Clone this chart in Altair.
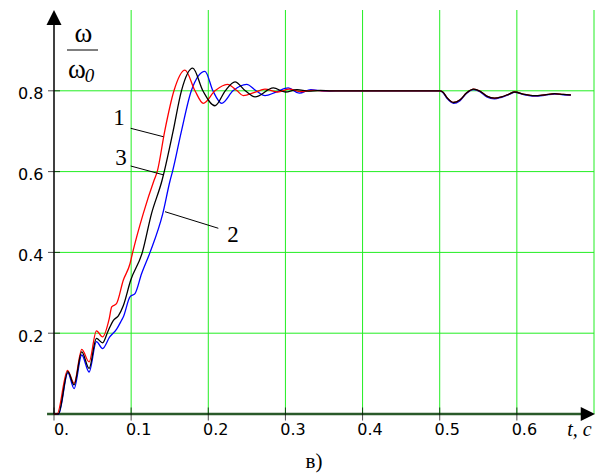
import altair as alt
import pandas as pd

# ---- curve data ----
red_t = [0.000, 0.004, 0.0175, 0.026, 0.036, 0.0455, 0.055, 0.063, 0.0716, 0.0748, 0.081, 0.0898,
         0.0985, 0.102, 0.1157, 0.1296, 0.1338, 0.1436, 0.1555, 0.1698, 0.1828, 0.1935, 0.2087,
         0.2247, 0.2374, 0.2454, 0.260, 0.2735, 0.290, 0.305, 0.320, 0.335, 0.350, 0.365]
red_w = [0.000, 0.000, 0.108, 0.076, 0.160, 0.129, 0.206, 0.191, 0.236, 0.265, 0.273, 0.331,
         0.372, 0.400, 0.496, 0.578, 0.600, 0.701, 0.800, 0.851, 0.800, 0.769, 0.800,
         0.816, 0.800, 0.788, 0.796, 0.804, 0.797, 0.804, 0.798, 0.801, 0.800, 0.800]

black_t = [0.000, 0.0056, 0.018, 0.026, 0.036, 0.0455, 0.055, 0.063, 0.070, 0.077, 0.0834, 0.0898,
           0.0994, 0.1145, 0.1264, 0.140, 0.1429, 0.1544, 0.1652, 0.1798, 0.193, 0.2087, 0.2220,
           0.2346, 0.2480, 0.2606, 0.2843, 0.300, 0.315, 0.330, 0.345, 0.360]
black_w = [0.000, 0.000, 0.105, 0.072, 0.154, 0.113, 0.187, 0.176, 0.205, 0.232, 0.243, 0.268,
           0.331, 0.400, 0.496, 0.578, 0.600, 0.700, 0.800, 0.856, 0.800, 0.763, 0.800,
           0.822, 0.800, 0.785, 0.807, 0.797, 0.803, 0.799, 0.801, 0.800]

blue_t = [0.000, 0.006, 0.018, 0.026, 0.036, 0.0455, 0.055, 0.063, 0.072, 0.0812, 0.0876, 0.0898,
          0.0985, 0.105, 0.1135, 0.1245, 0.141, 0.1505, 0.1536, 0.1652, 0.178, 0.1957, 0.206,
          0.2174, 0.232, 0.2498, 0.262, 0.2735, 0.288, 0.3037, 0.318, 0.333, 0.350, 0.365]
blue_w = [0.000, 0.000, 0.102, 0.063, 0.146, 0.104, 0.179, 0.162, 0.190, 0.210, 0.232, 0.240,
          0.290, 0.298, 0.347, 0.400, 0.496, 0.578, 0.600, 0.700, 0.800, 0.848, 0.800,
          0.769, 0.800, 0.816, 0.800, 0.788, 0.797, 0.807, 0.794, 0.803, 0.799, 0.800]

# load disturbance at t = 0.5
dist_t = [0.500, 0.504, 0.510, 0.518, 0.526, 0.535, 0.544, 0.552, 0.561, 0.571, 0.580, 0.590,
          0.597, 0.610, 0.623, 0.636, 0.649, 0.660, 0.670]
dist_w = [0.800, 0.797, 0.782, 0.771, 0.777, 0.795, 0.804, 0.799, 0.787, 0.782, 0.785, 0.792,
          0.797, 0.791, 0.788, 0.790, 0.793, 0.791, 0.790]
dist_w_blue = [0.800, 0.796, 0.780, 0.769, 0.775, 0.794, 0.803, 0.798, 0.785, 0.780, 0.784, 0.791,
               0.796, 0.790, 0.787, 0.789, 0.792, 0.790, 0.789]

x_ticks = [0.0, 0.1, 0.2, 0.3, 0.4, 0.5, 0.6]
y_ticks = [0.2, 0.4, 0.6, 0.8]
grid_t = [0.1, 0.2, 0.3, 0.4, 0.5, 0.6, 0.7]
grid_w = [0.2, 0.4, 0.6, 0.8]

label_text = ["1", "3", "2"]
label_t = [0.0843, 0.0869, 0.232]
label_w = [0.715, 0.616, 0.426]
leader_t1 = [0.0994, 0.0994, 0.1439]
leader_w1 = [0.7072, 0.6139, 0.5007]
leader_t2 = [0.1417, 0.1426, 0.213]
leader_w2 = [0.6864, 0.5916, 0.4597]

X_DOM = [0, 0.7]
Y_DOM = [0, 1.0]
xs = alt.Scale(domain=X_DOM, nice=False, zero=False)
ys = alt.Scale(domain=Y_DOM, nice=False, zero=False)

LABEL_FONT = "DejaVu Sans"
SERIF = "Liberation Serif"


def curve_df(ts, ws, dts, dws):
    return pd.DataFrame({"t": ts + dts, "w": ws + dws})


red_df = curve_df(red_t, red_w, dist_t, dist_w)
black_df = curve_df(black_t, black_w, dist_t, dist_w)
blue_df = curve_df(blue_t, blue_w, dist_t, dist_w_blue)

# grid
vgrid = alt.Chart(pd.DataFrame({"t": grid_t})).mark_rule(color="#22ee22", strokeWidth=1).encode(
    x=alt.X("t:Q", scale=xs,
            axis=alt.Axis(values=x_ticks, grid=False, domain=False, ticks=False,
                          labelExpr="datum.value == 0 ? '0.' : format(datum.value, '.1f')",
                          labelFont=LABEL_FONT, labelFontSize=16, labelColor="black",
                          labelPadding=7, labelOffset=7, labelFlush=False,
                          title="t, c", titleFont=SERIF, titleFontStyle="italic",
                          titleFontWeight="normal", titleFontSize=20, titleColor="black",
                          titleX=525, titleY=21, titleAlign="center", titleBaseline="alphabetic")),
    y=alt.datum(0, scale=ys), y2=alt.datum(1.0))

hgrid = alt.Chart(pd.DataFrame({"w": grid_w})).mark_rule(color="#22ee22", strokeWidth=1).encode(
    y=alt.Y("w:Q", scale=ys,
            axis=alt.Axis(values=y_ticks, grid=False, domain=False, ticks=False,
                          labelExpr="format(datum.value, '.1f')",
                          labelFont=LABEL_FONT, labelFontSize=16, labelColor="black",
                          labelPadding=11, labelOffset=3, labelFlush=False, title=None)),
    x=alt.datum(0, scale=xs), x2=alt.datum(0.7))

# axes lines
x_axis_line = alt.Chart(pd.DataFrame({"a": [0]})).mark_rule(color="#2a5a2a", strokeWidth=2.5).encode(
    y=alt.datum(0, scale=ys), x=alt.datum(-0.009, scale=xs), x2=alt.datum(0.69))
y_axis_line = alt.Chart(pd.DataFrame({"a": [0]})).mark_rule(color="black", strokeWidth=1.5).encode(
    x=alt.datum(0, scale=xs), y=alt.datum(0, scale=ys), y2=alt.datum(0.98))

x_tick_marks = alt.Chart(pd.DataFrame({"t": x_ticks})).mark_tick(
    orient="vertical", size=13, thickness=1, color="black").encode(
    x=alt.X("t:Q", scale=xs), y=alt.datum(0, scale=ys))
y_tick_marks = alt.Chart(pd.DataFrame({"w": y_ticks})).mark_tick(
    orient="horizontal", size=12, thickness=1, color="black").encode(
    y=alt.Y("w:Q", scale=ys), x=alt.datum(0, scale=xs))

arrow_up = alt.Chart(pd.DataFrame({"a": [0]})).mark_point(
    shape="M0,-1L-1,1L1,1Z", size=225, filled=True, color="black", opacity=1).encode(
    x=alt.datum(0, scale=xs), y=alt.value(7.5))
arrow_right = alt.Chart(pd.DataFrame({"a": [0]})).mark_point(
    shape="M1,0L-1,-0.95L-1,0.95Z", size=210, filled=True, color="black", opacity=1).encode(
    x=alt.value(534), y=alt.datum(0, scale=ys))


def line(df, color):
    return alt.Chart(df).mark_line(color=color, strokeWidth=1.3, interpolate="monotone").encode(
        x=alt.X("t:Q", scale=xs), y=alt.Y("w:Q", scale=ys), order="t:Q")


lines = [line(blue_df, "#0000ff"), line(red_df, "#ff0000"), line(black_df, "black")]

# annotations
ann_df = pd.DataFrame({"s": label_text, "t": label_t, "w": label_w,
                       "t1": leader_t1, "w1": leader_w1, "t2": leader_t2, "w2": leader_w2})
leaders = alt.Chart(ann_df).mark_rule(color="black", strokeWidth=1).encode(
    x=alt.X("t1:Q", scale=xs), y=alt.Y("w1:Q", scale=ys), x2="t2:Q", y2="w2:Q")
labels = alt.Chart(ann_df).mark_text(font=SERIF, fontSize=23, baseline="alphabetic",
                                     align="center", color="black").encode(
    x=alt.X("t:Q", scale=xs), y=alt.Y("w:Q", scale=ys), text="s:N")

# y title as fraction omega / omega_0
def txt(s, x, y, size, style="normal", align="center"):
    return alt.Chart(pd.DataFrame({"s": [s]})).mark_text(
        font=SERIF, fontSize=size, fontStyle=style, baseline="alphabetic", align=align,
        color="black").encode(x=alt.value(x), y=alt.value(y), text="s:N")


frac_top = txt("ω", 29.5, 32, 27)
frac_bot = txt("ω", 23, 68, 27)
frac_sub = txt("0", 35.5, 72, 19, style="italic")
frac_line = alt.Chart(pd.DataFrame({"a": [0]})).mark_rule(color="black", strokeWidth=1).encode(
    x=alt.value(13), x2=alt.value(44), y=alt.value(40))
caption = txt("в)", 260, 458, 21)

chart = alt.layer(
    vgrid, hgrid, x_axis_line, y_axis_line, x_tick_marks, y_tick_marks,
    *lines, leaders, labels, arrow_up, arrow_right,
    frac_top, frac_bot, frac_sub, frac_line, caption,
).properties(
    width=540, height=404, autosize="none",
    padding={"left": 54, "top": 10, "right": 1, "bottom": 61},
    background="white",
).configure_view(stroke=None)

chart.save("out.html", embed_options={"renderer": "svg", "actions": False})
